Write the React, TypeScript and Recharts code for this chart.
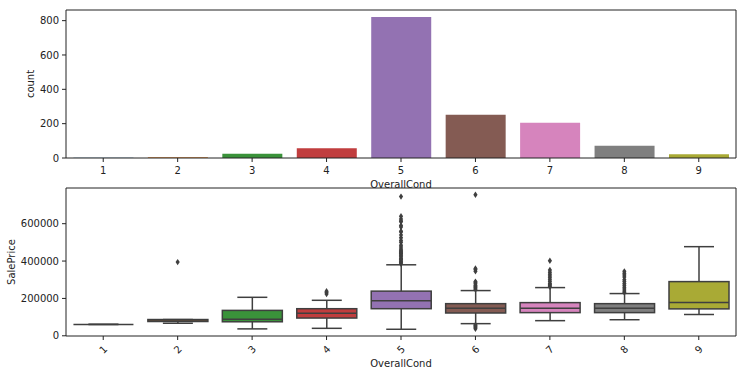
import React from "react";
import {
  BarChart, Bar, ComposedChart, Scatter, XAxis, YAxis, Cell, ReferenceLine,
} from "recharts";

// ─── Data ────────────────────────────────────────────────────────────────────
const CATEGORIES = ["1", "2", "3", "4", "5", "6", "7", "8", "9"];
const COUNTS = [1, 5, 25, 57, 821, 252, 205, 72, 22];

// SalePrice box statistics per OverallCond
const WHISKER_LOW = [61000, 67000, 37000, 40000, 34900, 65000, 81000, 86000, 114000];
const Q1 = [61000, 76500, 75000, 95000, 145000, 122000, 124000, 124000, 144000];
const MEDIAN = [61000, 85000, 89000, 120000, 188000, 147500, 147500, 147500, 178000];
const Q3 = [61000, 87000, 136000, 145000, 239000, 172000, 177500, 172000, 290000];
const WHISKER_HIGH = [61000, 87000, 206000, 190000, 380000, 242000, 258000, 226000, 477000];
const OUTLIERS: number[][] = [
  [],
  [394432],
  [],
  [224000, 232000, 238000],
  [385000, 392000, 398000, 405000, 410000, 415000, 423000, 430000, 438000, 440000, 446000,
    451000, 458000, 465000, 475000, 485000, 500000, 510000, 525000, 540000, 556000, 560000,
    582000, 590000, 611000, 615000, 625000, 640000, 745000],
  [37900, 45000, 50000, 55000, 58500, 248000, 255000, 260000, 265000, 270000, 278000,
    285000, 290000, 345000, 355000, 360000, 755000],
  [262000, 268000, 275000, 280000, 290000, 300000, 310000, 320000, 330000, 340000, 352000, 402000],
  [232000, 240000, 250000, 260000, 270000, 280000, 290000, 300000, 315000, 325000, 335000, 345000],
  [],
];

const COUNT_DOMAIN = [0, 862];
const COUNT_TICKS = [0, 200, 400, 600, 800];
const PRICE_DOMAIN = [-1105, 791005];
const PRICE_TICKS = [0, 200000, 400000, 600000];

const COLORS = [
  "#3274a1", "#e1812c", "#3a923a", "#c03d3e", "#9372b2",
  "#845b53", "#d684bd", "#7f7f7f", "#a9aa35",
];

const countData = CATEGORIES.map((c, i) => ({ cat: c, count: COUNTS[i] }));
const boxData = CATEGORIES.map((c, i) => ({
  cat: c, wlo: WHISKER_LOW[i], q1: Q1[i], med: MEDIAN[i], q3: Q3[i], whi: WHISKER_HIGH[i],
}));
const outlierData = CATEGORIES.flatMap((c, i) => OUTLIERS[i].map((v) => ({ cat: c, price: v })));

// ─── Styles ──────────────────────────────────────────────────────────────────
const INK = "#222";
const GRAY = "#3f3f3f";
const tick = { fontSize: 10, fill: INK };
const LAST = CATEGORIES[CATEGORIES.length - 1];

// ─── Shapes ──────────────────────────────────────────────────────────────────
function BoxShape(props: any) {
  const { x, y, width, height, payload, index } = props;
  const top = Math.min(y, y + height);
  const bottom = Math.max(y, y + height);
  const span = payload.whi - payload.wlo;
  const px = (v: number) => (span === 0 ? top : bottom - ((v - payload.wlo) / span) * (bottom - top));
  const cx = x + width / 2;
  const cap = width / 4;
  const yq1 = px(payload.q1);
  const yq3 = px(payload.q3);
  const ymed = px(payload.med);
  return (
    <g stroke={GRAY} strokeWidth={1.5}>
      <line x1={cx} x2={cx} y1={top} y2={bottom} />
      <line x1={cx - cap} x2={cx + cap} y1={top} y2={top} />
      <line x1={cx - cap} x2={cx + cap} y1={bottom} y2={bottom} />
      <rect x={x} y={yq3} width={width} height={Math.max(yq1 - yq3, 0)} fill={COLORS[index % COLORS.length]} />
      <line x1={x} x2={x + width} y1={ymed} y2={ymed} />
    </g>
  );
}

function Diamond(props: any) {
  const { cx, cy } = props;
  return (
    <polygon
      points={`${cx},${cy - 3.2} ${cx + 2.1},${cy} ${cx},${cy + 3.2} ${cx - 2.1},${cy}`}
      fill={GRAY}
    />
  );
}

function RotTick(props: any) {
  const { x, y, payload } = props;
  const ty = y + 6.5;
  return (
    <text x={x} y={ty} transform={`rotate(-45, ${x}, ${ty})`} textAnchor="middle"
      dominantBaseline="central" fontSize={10} fill={INK} stroke="none">
      {payload.value}
    </text>
  );
}

const yLabel = (text: string, lx: number) => (props: any) => {
  const vb = props.viewBox || { y: 0, height: 0 };
  const cy = vb.y + vb.height / 2;
  return (
    <text x={lx} y={cy} transform={`rotate(-90, ${lx}, ${cy})`} textAnchor="middle"
      dominantBaseline="central" fontSize={10} fill={INK}>
      {text}
    </text>
  );
};

// ─── App ─────────────────────────────────────────────────────────────────────
export default function App() {
  return (
    <div style={{ position: "absolute", left: 0, top: 0, width: 746, height: 376, background: "#fff", fontFamily: "DejaVu Sans" }}>
      <div style={{ position: "absolute", left: 0, top: 0 }}>
        <BarChart width={746} height={192} data={countData} barCategoryGap="10%"
          margin={{ top: 10, right: 10, bottom: 0, left: 0 }}>
          <XAxis dataKey="cat" height={34} tick={tick} tickSize={4} tickMargin={5}
            axisLine={{ stroke: INK }} tickLine={{ stroke: INK }}
            label={{ value: "OverallCond", position: "insideBottom", offset: 4, fontSize: 10, fill: INK }} />
          <YAxis width={66} domain={COUNT_DOMAIN} ticks={COUNT_TICKS} tick={tick}
            tickSize={4} tickMargin={3} axisLine={{ stroke: INK }} tickLine={{ stroke: INK }}
            label={{ content: yLabel("count", 30) }} />
          <Bar dataKey="count" isAnimationActive={false}>
            {countData.map((_, i) => (
              <Cell key={i} fill={COLORS[i % COLORS.length]} />
            ))}
          </Bar>
          <ReferenceLine y={COUNT_DOMAIN[1]} stroke={INK} ifOverflow="visible" />
          <ReferenceLine x={LAST} position="end" stroke={INK} ifOverflow="visible" />
        </BarChart>
      </div>
      <div style={{ position: "absolute", left: 0, top: 178 }}>
        <ComposedChart width={746} height={198} data={boxData} barCategoryGap="10%"
          margin={{ top: 10, right: 10, bottom: 0, left: 0 }}>
          <XAxis dataKey="cat" height={40} allowDuplicatedCategory={false} tick={<RotTick />}
            tickSize={4} tickMargin={3} axisLine={{ stroke: INK }} tickLine={{ stroke: INK }}
            label={{ value: "OverallCond", position: "insideBottom", offset: 9, fontSize: 10, fill: INK }} />
          <YAxis width={66} type="number" domain={PRICE_DOMAIN} ticks={PRICE_TICKS}
            tick={tick} tickSize={4} tickMargin={3} axisLine={{ stroke: INK }} tickLine={{ stroke: INK }}
            label={{ content: yLabel("SalePrice", 11) }} />
          <Bar dataKey={(d: any) => [d.wlo, d.whi]} shape={<BoxShape />} isAnimationActive={false} />
          <Scatter data={outlierData} dataKey="price" shape={<Diamond />} isAnimationActive={false} />
          <ReferenceLine y={PRICE_DOMAIN[1]} stroke={INK} ifOverflow="visible" />
          <ReferenceLine x={LAST} position="end" stroke={INK} ifOverflow="visible" />
        </ComposedChart>
      </div>
    </div>
  );
}
